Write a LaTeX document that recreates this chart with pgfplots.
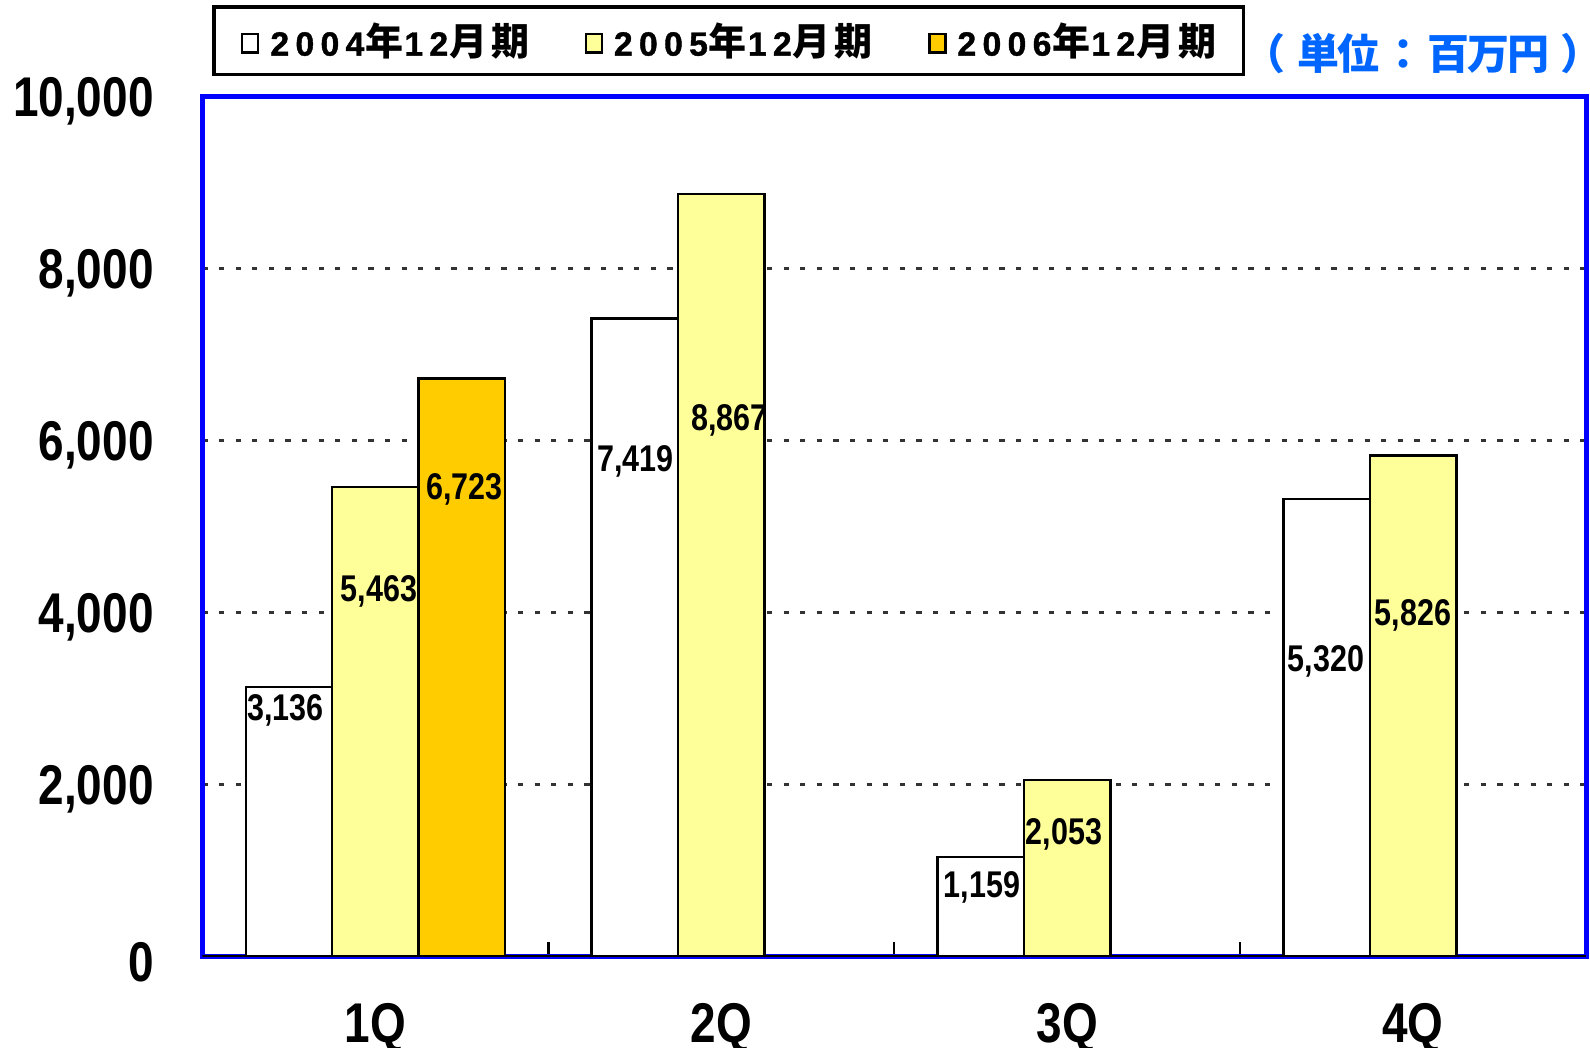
\documentclass[border=0pt]{standalone}
\usepackage{fontspec}
\setmainfont{Liberation Sans}
\newfontfamily\narrowfont[FakeStretch=0.82]{Liberation Sans}
\newfontfamily\legdigits[FakeBold=1.2]{Liberation Sans}
\newfontfamily\cjk{Noto Sans CJK JP}
\usepackage{pgfplots}
\pgfplotsset{compat=1.18}
\definecolor{y05}{HTML}{FFFF99}
\definecolor{y06}{HTML}{FFCC00}
\definecolor{unitblue}{HTML}{0066FF}
\definecolor{gridgray}{HTML}{333333}
\pgfplotsset{sqlegend/.style={legend image code/.code={\draw[##1, line width=1.2pt] (0pt,-5.75pt) rectangle (8pt,3.55pt);}}}
% legend text: Arial-like digits, CJK kanji, spaced like the original
\newcommand\lgd[1]{{\legdigits\fontsize{16.8}{20}\selectfont #1}}
\newcommand\lgk[1]{{\cjk\bfseries\fontsize{19}{22}\selectfont #1}}
\newcommand\legyr[1]{\lgd{2}\hspace{3.2pt}\lgd{0}\hspace{3.2pt}\lgd{0}\hspace{3.2pt}\lgd{#1}\hspace{0.5pt}\lgk{年}\hspace{0.5pt}\lgd{1}\hspace{3.2pt}\lgd{2}\hspace{0.5pt}\lgk{月}\hspace{2pt}\lgk{期}}
\begin{document}
\begin{tikzpicture}
\begin{axis}[name=ax, scale only axis, width=691.75pt, height=430.3pt,
  xmin=-0.5, xmax=3.5, ymin=0, ymax=10000,
  xtick={0,1,2,3}, xticklabels={1Q,2Q,3Q,4Q},
  major x tick style={draw=none},
  minor xtick={0.5,1.5,2.5}, minor tick length=7.5pt,
  minor x tick style={black, line width=1.2pt},
  xtick pos=left,
  ytick={0,2000,4000,6000,8000,10000}, ytick style={draw=none},
  ymajorgrids, grid style={gridgray, line width=1.7pt, dash pattern=on 2.6pt off 5.7pt},
  axis line style={draw=blue, line width=2.5pt},
  scaled y ticks=false,
  /pgf/number format/assume math mode=true,
  yticklabel style={font=\narrowfont\bfseries\fontsize{28}{30}\selectfont, anchor=east, inner sep=0pt, xshift=-24.25pt, yshift=-2.5pt},
  xticklabel style={font=\narrowfont\bfseries\fontsize{28}{30}\selectfont, anchor=base, inner sep=0pt, yshift=-43pt},
  legend columns=3,
  legend style={at={(0.0072,1.0233)}, anchor=south west, draw=black, line width=1.6pt, fill=white,
    inner xsep=13.5pt, inner ysep=8pt, font=\cjk\bfseries\fontsize{19}{22}\selectfont,
    nodes={inner sep=0pt},
    /tikz/every odd column/.append style={column sep=5.5pt},
    /tikz/every even column/.append style={column sep=27.7pt}},
]
\addplot[ybar, bar width=0.25, bar shift=-0.25, fill=white, draw=black, line width=1.2pt, sqlegend]
  coordinates {(0,3136) (1,7419) (2,1159) (3,5320)};
\addplot[ybar, bar width=0.25, bar shift=0, fill=y05, draw=black, line width=1.2pt, sqlegend]
  coordinates {(0,5463) (1,8867) (2,2053) (3,5826)};
\addplot[ybar, bar width=0.25, bar shift=0.25, fill=y06, draw=black, line width=1.2pt, sqlegend]
  coordinates {(0,6723)};
\addplot[only marks, mark=*, mark options={draw=none, fill=none}, mark size=0pt,
  nodes near coords, point meta=explicit symbolic,
  nodes near coords style={anchor=center, inner sep=0pt, text=black, font=\narrowfont\bfseries\fontsize{18.6}{20}\selectfont}]
  table[x=x, y=y, meta=lab] {
x y lab
-0.26 2860 3,136
0.01 4250 5,463
0.257 5431 6,723
0.752 5761 7,419
1.023 6234 8,867
1.754 803 1,159
1.991 1429 2,053
2.748 3436 5,320
3.0 3967 5,826
};
\draw[black, line width=1.5pt] (rel axis cs:0,0) -- (rel axis cs:1,0);
\legend{\legyr{4},\legyr{5},\legyr{6}}
\end{axis}
\node[anchor=base east, inner sep=0pt, text=unitblue, font=\cjk\bfseries\fontsize{21}{24}\selectfont]
  at ([xshift=8.5pt, yshift=13.5pt]ax.north east)
  {（\hspace{6pt}単\hspace{-1pt}位\hspace{1.5pt}：\hspace{1.5pt}百\hspace{-1pt}万\hspace{-1pt}円\hspace{5.5pt}）};
\pgfresetboundingbox
\path[use as bounding box] ([xshift=-101.25pt, yshift=-45.5pt]ax.south west) rectangle ([xshift=2pt, yshift=48.15pt]ax.north east);
\end{tikzpicture}
\end{document}
